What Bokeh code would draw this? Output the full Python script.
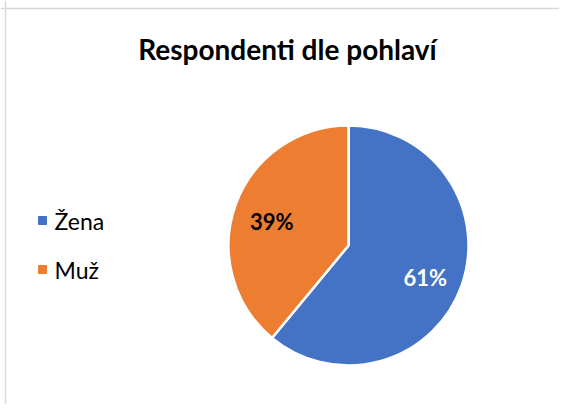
import math
from bokeh.plotting import figure
from bokeh.models import ColumnDataSource, Range1d, Span
from bokeh.core.properties import value
from bokeh.embed import file_html
from bokeh.resources import INLINE

title = "Respondenti dle pohlaví"
categories = ["Žena", "Muž"]
values = [61, 39]
colors = ["#4472C4", "#ED7D31"]
label_colors = ["white", "black"]

W, H = 559, 404
p = figure(width=W, height=H, output_backend="svg", toolbar_location=None,
           x_range=Range1d(0, W), y_range=Range1d(0, H), min_border=0)
p.axis.visible = False
p.grid.visible = False
p.outline_line_color = None
p.background_fill_color = "white"
p.border_fill_color = "white"

# chart-area border (left and top edges visible)
p.add_layout(Span(location=5, dimension="height", line_color="#d9d9d9", line_width=1.5))
p.add_layout(Span(location=H - 8, dimension="width", line_color="#d9d9d9", line_width=1.5))

cx, cy, R = 348, H - 245, 120
total = sum(values)
starts, ends, lx, ly, texts = [], [], [], [], []
a = math.pi / 2
for v in values:
    sweep = 2 * math.pi * v / total
    starts.append(a)
    ends.append(a - sweep)
    mid = a - sweep / 2
    lx.append(cx + 0.68 * R * math.cos(mid))
    ly.append(cy + 0.68 * R * math.sin(mid) - 4)
    texts.append(f"{round(100 * v / total)}%")
    a -= sweep

src = ColumnDataSource(dict(start=starts, end=ends, color=colors, lx=lx, ly=ly,
                            text=texts, tcolor=label_colors, cat=categories))
p.wedge(x=cx, y=cy, radius=R, start_angle="start", end_angle="end", direction="clock",
        fill_color="color", line_color="white", line_width=2.5, source=src)
p.text(x="lx", y="ly", text="text", text_color="tcolor", text_font=value("Lato"),
       text_font_style="bold", text_font_size="22px", text_align="center",
       text_baseline="middle", source=src)

# title
p.text(x=[287], y=[H - 48], text=[title], text_font=value("Lato"), text_font_style="bold",
       text_font_size="28px", text_align="center", text_baseline="middle", text_color="black")

# legend
leg_y = [H - 220, H - 269]
lsrc = ColumnDataSource(dict(x=[42] * len(categories), y=leg_y, color=colors,
                             tx=[54] * len(categories), cat=categories))
p.scatter(x="x", y="y", marker="square", size=8, fill_color="color", line_color="color", source=lsrc)
p.text(x="tx", y="y", text="cat", text_font=value("Lato"), text_font_size="23px",
       text_align="left", text_baseline="middle", text_color="black", source=lsrc)

open("out.html", "w").write(file_html(p, INLINE))
